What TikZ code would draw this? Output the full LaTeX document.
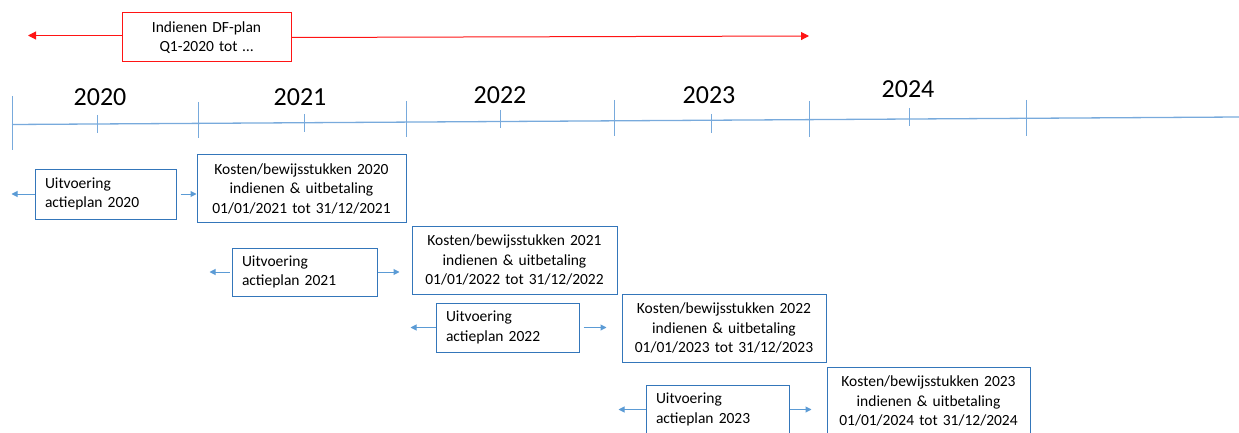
\documentclass[tikz,border=0pt]{standalone}
\usepackage{fontspec}
\setmainfont{Carlito}
\usetikzlibrary{arrows.meta}
\definecolor{boxblue}{RGB}{52,118,186}
\definecolor{lineblue}{RGB}{120,170,220}
\definecolor{arrblue}{RGB}{91,155,213}
\definecolor{redline}{RGB}{255,20,20}
\begin{document}
\begin{tikzpicture}[x=1pt,y=-1pt,
  every node/.style={font=\fontsize{15.5}{19.5}\selectfont},
  yearlbl/.style={font=\fontsize{26}{30}\selectfont, inner sep=0pt},
  uitbox/.style={draw=boxblue, line width=1pt, align=left, inner xsep=10pt, inner ysep=0pt, text width=#1-20pt, minimum height=49pt},
  kostbox/.style={draw=boxblue, line width=1pt, align=center, inner xsep=0pt, inner ysep=0pt, text width=#1, minimum height=68pt},
  redbox/.style={draw=redline, line width=1pt, align=center, inner xsep=0pt, inner ysep=0pt, text width=169pt, minimum height=49pt},
  tl/.style={draw=lineblue, line width=1.3pt},
  tick/.style={draw=lineblue, line width=1pt},
  arr/.style={draw=arrblue, line width=1pt, -{Triangle[length=6pt,width=6pt]}},
  rarr/.style={draw=redline, line width=1pt, -{Triangle[length=8pt,width=8pt]}}]
\useasboundingbox (0,0) rectangle (1239,433);
\clip (0,0) rectangle (1239,433);

% red indicator
\node[redbox] (R) at (206.5,37.5) {Indienen DF-plan\\Q1-2020 tot …};
\coordinate (RL) at (28,35.5);
\coordinate (RR) at (809,36);
\draw[rarr] ([yshift=2pt]R.west) -- (RL);
\draw[rarr] (R.east) -- (RR);

% timeline
\draw[tl] (12,124.5) -- (1239,117);
\foreach \x/\a/\b in {12/96/150, 198/102/138, 406/101/137, 614/100/136, 809/101/137, 1026/100/136}
  \draw[tick] (\x,\a) -- (\x,\b);
\foreach \x/\a/\b in {97/115/133, 304/114/132, 500/110/128, 711/114/133, 909/108/126}
  \draw[tick] (\x,\a) -- (\x,\b);

\node[yearlbl] (Y0) at (100,97) {2020};
\node[yearlbl] (Y1) at (300,97) {2021};
\node[yearlbl] (Y2) at (500,95) {2022};
\node[yearlbl] (Y3) at (709,95) {2023};
\node[yearlbl] (Y4) at (908,89) {2024};

% boxes
\node[uitbox=141pt, minimum height=50pt] (U0) at (105.5,194) {Uitvoering\\actieplan 2020};
\node[kostbox=209pt] (K0) at (301.5,188.5) {Kosten/bewijsstukken 2020\\indienen \& uitbetaling\\01/01/2021 tot 31/12/2021};
\node[uitbox=145pt, minimum height=48pt] (U1) at (304.5,272) {Uitvoering\\actieplan 2021};
\node[kostbox=205pt] (K1) at (514.5,260) {Kosten/bewijsstukken 2021\\indienen \& uitbetaling\\01/01/2022 tot 31/12/2022};
\node[uitbox=143pt] (U2) at (507.5,327.5) {Uitvoering\\actieplan 2022};
\node[kostbox=204pt] (K2) at (724,328) {Kosten/bewijsstukken 2022\\indienen \& uitbetaling\\01/01/2023 tot 31/12/2023};
\node[uitbox=143pt] (U3) at (717.5,409.5) {Uitvoering\\actieplan 2023};
\node[kostbox=203pt] (K3) at (928.5,401) {Kosten/bewijsstukken 2023\\indienen \& uitbetaling\\01/01/2024 tot 31/12/2024};

% arrows
\draw[arr] (U0.west) -- ++(-23,0);
\draw[arr] ([xshift=4pt]U0.east) -- (U0.east -| K0.west);
\draw[arr] ([xshift=-2pt]U1.west) -- ++(-20,0);
\draw[arr] (U1.east) -- ++(22,0);
\draw[arr] (U2.west) -- ++(-25,0);
\draw[arr] ([xshift=4pt]U2.east) -- ++(23,0);
\draw[arr] (U3.west) -- ++(-27,0);
\draw[arr] (U3.east) -- ++(22,0);
\end{tikzpicture}
\end{document}
